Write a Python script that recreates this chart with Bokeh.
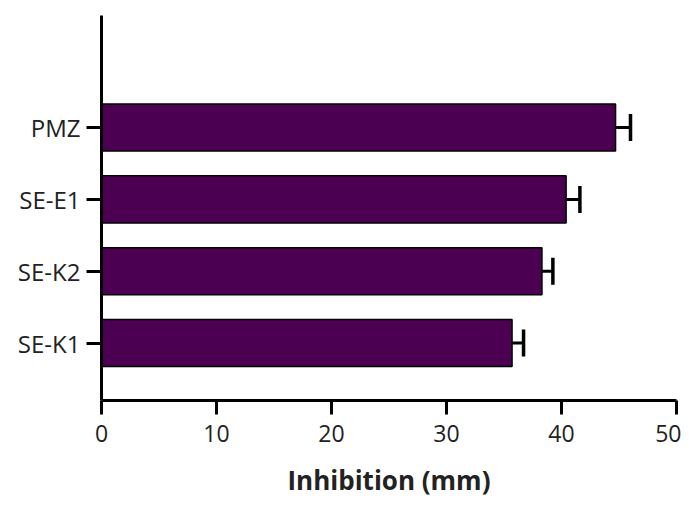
from bokeh.plotting import figure
from bokeh.models import ColumnDataSource, Whisker, TeeHead, Range1d, FixedTicker
from bokeh.embed import file_html
from bokeh.resources import INLINE

categories = ["SE-K1", "SE-K2", "SE-E1", "PMZ"]
values = [35.7, 38.3, 40.4, 44.7]
errors = [1.0, 0.95, 1.2, 1.3]
x_ticks = [0, 10, 20, 30, 40, 50]
x_title = "Inhibition (mm)"

pos = list(range(1, len(categories) + 1))
src = ColumnDataSource(dict(
    y=pos,
    v=values,
    up=[v + e for v, e in zip(values, errors)],
))

p = figure(width=681, height=500, output_backend="svg", toolbar_location=None,
           x_range=Range1d(0, 50), y_range=Range1d(0.2, 5.56),
           min_border_left=101, min_border_right=5, min_border_top=15, min_border_bottom=100)
p.outline_line_color = None
p.xgrid.visible = False
p.ygrid.visible = False
p.background_fill_color = "white"

p.hbar(y="y", left=0, right="v", height=0.655, source=src,
       fill_color="#4B0052", line_color="black", line_width=1.5)

w = Whisker(base="y", lower="v", upper="up", dimension="width", source=src,
            line_color="black", line_width=3,
            lower_head=None,
            upper_head=TeeHead(size=27, line_color="black", line_width=3.5))
p.add_layout(w)

font = "Open Sans"
p.xaxis.ticker = FixedTicker(ticks=x_ticks)
p.xaxis.minor_tick_line_color = None
p.xaxis.major_tick_in = 0
p.xaxis.major_tick_out = 14
p.xaxis.major_tick_line_width = 3
p.xaxis.axis_line_width = 3
p.xaxis.major_label_text_font = font
p.xaxis.major_label_text_font_size = "23px"
p.xaxis.major_label_text_color = "#222222"
p.xaxis.major_label_standoff = 10
p.xaxis.axis_label = x_title
p.xaxis.axis_label_text_font = font
p.xaxis.axis_label_text_font_style = "bold"
p.xaxis.axis_label_text_font_size = "26px"
p.xaxis.axis_label_text_color = "#222222"
p.xaxis.axis_label_standoff = 17

p.yaxis.ticker = FixedTicker(ticks=pos)
p.yaxis.major_label_overrides = {i: c for i, c in zip(pos, categories)}
p.yaxis.minor_tick_line_color = None
p.yaxis.major_tick_in = 0
p.yaxis.major_tick_out = 15
p.yaxis.major_tick_line_width = 3
p.yaxis.axis_line_width = 3
p.yaxis.major_label_text_font = font
p.yaxis.major_label_text_font_size = "24px"
p.yaxis.major_label_text_color = "#222222"
p.yaxis.major_label_standoff = 6

open("out.html", "w").write(file_html(p, INLINE))
